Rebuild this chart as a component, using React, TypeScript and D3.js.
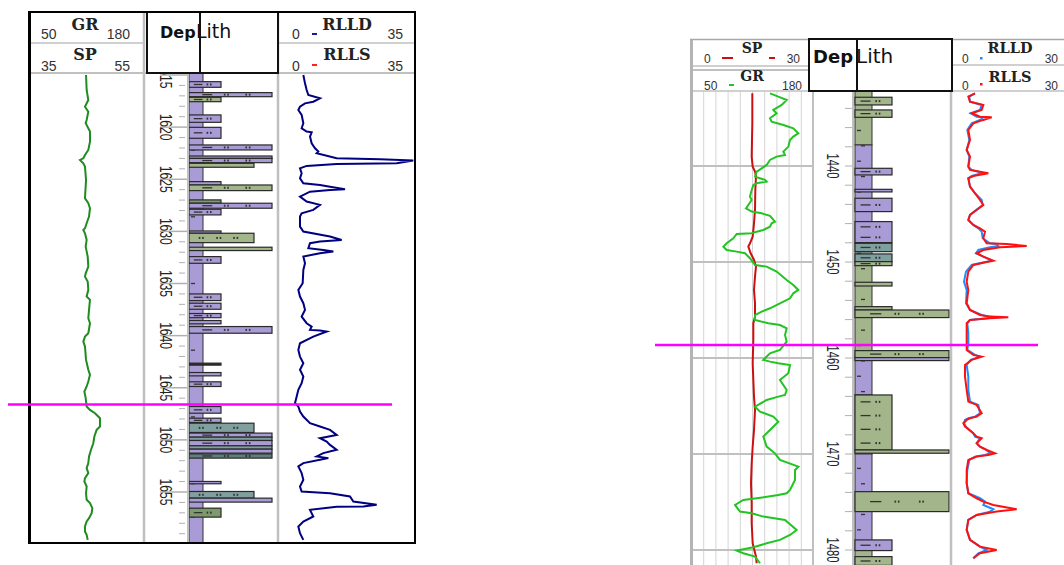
import React from "react";
import * as d3 from "d3";

// ---------- left log (1615 - 1660 m) ----------
const leftGrDepth = [1615.0, 1616.44, 1617.4, 1618.04, 1618.52, 1619.31, 1619.63, 1620.43, 1621.39, 1622.19, 1622.67, 1622.99, 1623.15, 1623.47, 1623.79, 1625.07, 1626.82, 1627.3, 1627.78, 1628.58, 1629.22, 1629.7, 1629.86, 1630.18, 1630.82, 1631.46, 1632.42, 1633.38, 1634.02, 1634.34, 1634.81, 1635.61, 1636.25, 1636.57, 1637.53, 1638.33, 1638.81, 1639.77, 1640.09, 1640.57, 1641.05, 1642.33, 1643.28, 1643.76, 1644.4, 1644.88, 1645.36, 1646.0, 1646.8, 1647.12, 1647.44, 1647.92, 1648.72, 1649.04, 1649.68, 1650.32, 1650.95, 1651.59, 1652.23, 1652.71, 1653.19, 1653.67, 1653.99, 1654.47, 1655.11, 1655.75, 1656.07, 1656.55, 1657.03, 1657.51, 1657.83, 1658.31, 1658.79, 1659.11, 1659.59];
const leftGr = [113.9, 114.6, 116.5, 112.7, 116.5, 114.6, 113.5, 118.4, 118.4, 116.5, 112.7, 110.8, 107.0, 110.8, 112.7, 113.9, 112.7, 116.5, 118.4, 117.3, 114.6, 112.7, 110.8, 112.7, 114.6, 113.5, 115.8, 116.5, 113.5, 112.7, 115.8, 116.5, 114.6, 118.4, 117.3, 116.5, 118.4, 116.5, 112.7, 110.8, 112.7, 113.9, 116.5, 118.4, 116.5, 114.6, 112.0, 113.5, 114.6, 118.4, 124.1, 129.8, 129.8, 126.0, 123.4, 122.2, 119.6, 117.3, 116.5, 114.6, 116.5, 112.7, 112.0, 114.6, 113.9, 114.6, 118.4, 121.1, 120.3, 117.3, 114.6, 112.7, 112.7, 114.6, 115.8];

const leftResDepth = [1615.0, 1615.8, 1616.44, 1616.92, 1617.24, 1617.56, 1617.72, 1618.04, 1618.36, 1618.83, 1619.63, 1620.11, 1620.43, 1620.5, 1620.91, 1621.55, 1622.03, 1622.35, 1622.51, 1622.99, 1623.09, 1623.21, 1623.47, 1623.53, 1623.72, 1623.95, 1624.43, 1624.91, 1625.39, 1625.55, 1625.71, 1625.96, 1626.03, 1626.19, 1626.66, 1627.14, 1627.46, 1627.94, 1628.26, 1628.58, 1629.54, 1630.02, 1630.5, 1630.82, 1630.98, 1631.14, 1631.62, 1631.78, 1631.94, 1632.1, 1632.42, 1633.06, 1633.7, 1634.97, 1635.61, 1636.25, 1636.89, 1637.53, 1638.17, 1638.81, 1639.13, 1639.45, 1639.5, 1639.61, 1640.09, 1640.73, 1641.37, 1642.01, 1642.65, 1643.28, 1643.92, 1644.56, 1645.2, 1645.84, 1646.48, 1646.8, 1647.28, 1647.76, 1648.4, 1648.72, 1649.04, 1649.52, 1649.84, 1650.16, 1650.48, 1650.95, 1651.27, 1651.59, 1651.75, 1651.91, 1652.23, 1652.55, 1653.19, 1653.83, 1654.47, 1654.95, 1655.11, 1655.43, 1655.91, 1656.23, 1656.39, 1656.42, 1656.71, 1657.35, 1657.83, 1658.31, 1658.95, 1659.59];
const leftRlld = [5.92, 6.34, 6.76, 7.19, 10.14, 8.45, 6.34, 5.07, 4.65, 5.49, 5.92, 5.49, 6.76, 8.03, 7.61, 8.03, 8.88, 9.72, 9.3, 14.37, 25.36, 33.81, 29.59, 14.37, 6.76, 5.07, 5.49, 5.07, 5.92, 10.14, 12.68, 16.49, 12.68, 7.61, 5.07, 6.76, 10.14, 8.45, 5.49, 5.07, 5.07, 5.92, 12.68, 15.64, 10.14, 7.61, 7.19, 10.99, 13.53, 10.14, 5.92, 6.34, 5.92, 5.75, 4.65, 5.07, 5.92, 6.34, 5.49, 6.76, 8.03, 7.61, 10.14, 11.84, 8.45, 5.07, 4.65, 5.07, 5.92, 5.07, 5.92, 5.49, 4.65, 4.23, 3.8, 4.65, 5.07, 5.92, 7.61, 10.14, 12.68, 14.37, 10.14, 11.84, 12.68, 14.37, 10.99, 9.3, 12.26, 10.14, 5.92, 4.65, 5.49, 5.92, 5.07, 5.49, 12.68, 17.75, 18.6, 24.52, 21.14, 14.37, 7.61, 8.45, 5.92, 4.65, 5.07, 5.92];

const leftMarkerDepth = 1646.6;
const leftDepthLabels = [1615, 1620, 1625, 1630, 1635, 1640, 1645, 1650, 1655];

// lithology: [top, bottom, size, rock]
const leftLithBase: [number, number, string][] = [[1614, 1661, "purple"]];
const leftLithBars: [number, number, number, string][] = [
  [1615.64, 1616.18, 2, "purple"], [1616.69, 1617.08, 4, "purple"], [1617.14, 1617.56, 2, "green"],
  [1618.83, 1619.54, 2, "purple"], [1620.02, 1621.07, 2, "purple"], [1621.71, 1622.19, 4, "purple"],
  [1622.77, 1623.0, 4, "purple"], [1623.0, 1623.41, 4, "purple"], [1623.47, 1623.85, 3, "green"],
  [1625.23, 1625.55, 2, "purple"], [1625.55, 1626.09, 4, "green"], [1626.98, 1627.3, 2, "olive"],
  [1627.3, 1627.78, 4, "purple"], [1627.88, 1628.42, 2, "purple"], [1629.96, 1630.18, 2, "purple"],
  [1630.18, 1631.08, 3, "green"], [1631.52, 1631.84, 4, "green"], [1632.42, 1633.06, 2, "purple"],
  [1636.0, 1636.64, 2, "purple"], [1636.89, 1637.47, 2, "purple"], [1637.88, 1638.28, 2, "purple"],
  [1638.55, 1638.87, 2, "purple"], [1639.13, 1639.77, 4, "purple"], [1642.64, 1642.83, 2, "dark"],
  [1643.54, 1643.86, 2, "purple"], [1644.43, 1644.88, 2, "purple"], [1646.8, 1647.44, 2, "purple"],
  [1647.92, 1648.33, 2, "purple"], [1648.4, 1649.29, 3, "teal"], [1649.35, 1649.74, 4, "purple"],
  [1649.74, 1650.06, 4, "teal"], [1650.06, 1650.57, 4, "purple"], [1650.57, 1650.89, 4, "teal"],
  [1650.89, 1651.27, 4, "purple"], [1651.34, 1651.75, 4, "darkTeal"], [1653.99, 1654.21, 2, "purple"],
  [1654.95, 1655.59, 3, "teal"], [1655.59, 1655.97, 4, "purple"], [1656.55, 1657.41, 2, "olive"],
];

// ---------- right log (1432 - 1482 m) ----------
const rightSpDepth = [1432.43, 1435.55, 1439.02, 1440.07, 1440.59, 1441.11, 1442.5, 1444.58, 1445.97, 1447.36, 1448.05, 1448.4, 1449.09, 1449.79, 1450.48, 1451.52, 1452.91, 1454.3, 1455.69, 1456.38, 1458.12, 1460.55, 1464.02, 1465.41, 1467.5, 1469.23, 1470.97, 1473.05, 1475.13, 1477.22, 1479.3, 1480.69, 1481.38];
const rightSp = [14.83, 14.83, 14.67, 14.92, 15.5, 15.75, 15.58, 15.5, 15.25, 14.92, 14.25, 13.83, 14.42, 15.25, 15.75, 15.5, 15.25, 15.5, 15.5, 15.08, 15.08, 14.92, 15.25, 15.5, 15.25, 14.92, 14.67, 14.5, 14.67, 14.67, 14.92, 15.75, 15.92];

const rightGrDepth = [1432.43, 1432.77, 1433.12, 1433.64, 1434.16, 1434.51, 1435.03, 1435.38, 1435.73, 1436.07, 1436.59, 1436.94, 1437.29, 1437.98, 1438.5, 1438.85, 1439.02, 1439.37, 1439.89, 1440.24, 1440.59, 1441.11, 1441.45, 1441.63, 1441.8, 1441.98, 1442.5, 1443.19, 1443.54, 1444.06, 1444.41, 1444.75, 1444.93, 1445.2, 1445.79, 1445.97, 1446.32, 1446.66, 1446.84, 1447.01, 1447.08, 1447.53, 1448.05, 1448.4, 1448.75, 1448.92, 1449.09, 1449.61, 1450.31, 1450.48, 1451.0, 1451.87, 1452.39, 1452.91, 1453.26, 1453.78, 1454.3, 1454.82, 1455.17, 1455.52, 1456.04, 1456.38, 1456.56, 1456.9, 1457.6, 1458.3, 1459.16, 1459.51, 1460.2, 1460.38, 1460.55, 1460.73, 1461.59, 1462.29, 1463.33, 1463.85, 1464.02, 1464.37, 1465.07, 1465.59, 1466.11, 1466.63, 1467.5, 1468.19, 1469.23, 1469.93, 1470.62, 1471.32, 1471.66, 1472.7, 1473.75, 1474.09, 1474.27, 1474.61, 1474.79, 1475.31, 1476.0, 1476.18, 1476.52, 1476.87, 1477.91, 1478.43, 1478.95, 1479.3, 1479.72, 1480.06, 1480.34, 1480.69, 1481.38];
const rightGr = [133.4, 142.4, 151.5, 146.1, 137.0, 140.6, 133.4, 135.2, 147.9, 158.7, 164.1, 158.7, 155.1, 153.3, 147.9, 149.7, 140.6, 133.4, 129.8, 124.4, 119.0, 117.2, 128.0, 129.8, 119.0, 115.4, 113.6, 111.7, 113.6, 109.9, 107.4, 113.6, 124.4, 133.4, 138.8, 135.2, 133.4, 126.2, 119.0, 113.6, 97.3, 93.7, 86.5, 82.9, 86.5, 97.3, 106.3, 111.7, 117.2, 129.8, 140.6, 151.5, 158.7, 164.1, 158.7, 155.1, 144.2, 133.4, 124.4, 117.2, 117.2, 131.6, 144.2, 151.5, 149.7, 151.5, 144.2, 133.4, 126.2, 133.4, 142.4, 155.1, 153.3, 144.2, 151.5, 149.7, 142.4, 129.8, 117.2, 122.6, 137.0, 142.4, 133.4, 126.2, 129.8, 138.8, 144.2, 164.1, 160.5, 160.5, 155.1, 151.5, 142.4, 119.0, 104.5, 95.5, 100.9, 113.6, 126.2, 149.7, 162.3, 155.1, 144.2, 129.8, 115.4, 97.3, 104.5, 117.2, 122.6];

const rightResDepth = [1432.43, 1432.77, 1433.3, 1433.64, 1434.16, 1434.51, 1434.86, 1434.93, 1435.2, 1435.55, 1436.25, 1437.29, 1438.33, 1439.02, 1440.07, 1440.41, 1440.59, 1440.76, 1441.04, 1441.28, 1442.15, 1442.84, 1443.54, 1444.06, 1444.58, 1445.1, 1445.62, 1446.14, 1446.49, 1446.84, 1447.53, 1448.05, 1448.12, 1448.33, 1448.47, 1448.75, 1449.09, 1449.44, 1449.86, 1450.07, 1450.31, 1451.0, 1452.04, 1452.91, 1454.3, 1455.0, 1455.52, 1455.69, 1455.76, 1455.86, 1456.04, 1456.38, 1457.43, 1458.47, 1459.16, 1459.68, 1459.86, 1460.2, 1460.72, 1461.94, 1463.33, 1464.54, 1464.89, 1465.76, 1466.11, 1466.28, 1466.45, 1466.8, 1467.15, 1467.84, 1468.19, 1468.36, 1468.88, 1469.23, 1469.58, 1469.92, 1470.1, 1470.27, 1470.62, 1471.66, 1473.05, 1474.09, 1474.61, 1474.96, 1475.31, 1475.76, 1476.0, 1476.35, 1476.87, 1477.91, 1478.95, 1479.65, 1480.0, 1480.34, 1480.86];
const rightRlls = [5.75, 4.08, 4.5, 7.83, 7.42, 4.92, 7.0, 9.92, 7.83, 5.33, 4.08, 4.5, 3.67, 4.5, 4.08, 4.5, 7.0, 9.08, 5.33, 4.08, 4.5, 5.75, 7.0, 7.83, 6.17, 4.5, 4.08, 5.33, 7.0, 8.25, 7.83, 8.67, 13.67, 18.67, 12.0, 7.83, 6.17, 7.83, 10.33, 7.83, 5.33, 4.08, 3.67, 4.08, 3.67, 4.5, 7.0, 9.5, 14.08, 9.5, 4.5, 3.67, 3.67, 3.67, 3.67, 5.33, 7.42, 4.92, 3.25, 3.25, 3.67, 4.08, 6.17, 7.42, 6.17, 4.5, 3.67, 2.83, 3.25, 5.33, 6.17, 7.42, 6.17, 7.0, 8.67, 10.75, 9.08, 6.17, 4.08, 3.67, 3.67, 4.08, 6.17, 7.83, 10.33, 16.17, 11.17, 6.17, 4.08, 3.67, 4.5, 7.0, 11.17, 7.0, 5.33];
const rightRlld = [5.75, 4.33, 4.5, 7.42, 7.0, 4.67, 6.17, 7.83, 7.0, 4.92, 3.83, 4.33, 3.67, 4.33, 4.08, 4.92, 6.58, 7.42, 4.92, 4.08, 4.5, 5.75, 7.42, 7.67, 6.0, 4.5, 4.08, 5.33, 6.58, 7.42, 7.67, 9.5, 11.17, 11.58, 9.5, 6.58, 6.0, 7.83, 9.92, 7.42, 4.92, 3.5, 3.0, 3.67, 3.5, 4.5, 7.42, 9.5, 10.33, 8.67, 4.5, 3.83, 4.08, 4.08, 3.83, 5.75, 7.0, 4.67, 3.67, 4.08, 4.08, 4.5, 6.58, 7.0, 5.75, 4.08, 3.25, 3.0, 3.5, 5.33, 5.75, 7.0, 6.17, 7.0, 8.67, 9.5, 8.25, 5.75, 4.33, 3.83, 3.67, 4.08, 7.0, 8.25, 7.83, 10.33, 9.5, 6.17, 4.08, 3.67, 4.5, 7.0, 8.67, 6.58, 5.33];

const rightMarkerDepth = 1458.65;
const rightDepthLabels = [1430, 1440, 1450, 1460, 1470, 1480];

const rightLithBase: [number, number, string][] = [
  [1431, 1437.81, "green"], [1437.81, 1448.05, "purple"], [1448.05, 1450.0, "teal"],
  [1450.0, 1459.86, "green"], [1459.86, 1463.85, "purple"], [1463.85, 1470.0, "green"],
  [1470.0, 1480.0, "purple"], [1480.0, 1483, "green"],
];
const rightLithBars: [number, number, number, string][] = [
  [1432.84, 1433.64, 2, "green"], [1434.16, 1434.93, 2, "green"], [1440.24, 1440.93, 2, "purple"],
  [1442.43, 1442.7, 2, "purple"], [1443.36, 1444.75, 2, "purple"], [1445.79, 1447.98, 2, "purple"],
  [1448.05, 1448.92, 2, "teal"], [1449.16, 1449.96, 2, "teal"], [1449.96, 1450.38, 2, "green"],
  [1452.11, 1452.5, 2, "green"], [1454.65, 1455.0, 2, "green"], [1455.0, 1455.79, 4, "green"],
  [1459.23, 1459.96, 4, "green"], [1459.96, 1460.27, 4, "purple"], [1463.85, 1469.58, 2, "green"],
  [1469.58, 1469.92, 4, "green"], [1473.92, 1476.0, 4, "green"], [1478.95, 1480.06, 2, "purple"],
  [1480.69, 1481.6, 2, "green"],
];

const rockFill: Record<string, string> = {
  purple: "#a99bd6",
  green: "#a3b58a",
  teal: "#809f9f",
  darkTeal: "#5f7f7a",
  olive: "#7d9a6c",
  dark: "#2a2a2a",
};

const NUM = "'Liberation Sans', Arial, sans-serif";
const SERIF = "'DejaVu Serif', serif";
const BOX = "'DejaVu Sans', sans-serif";
const GRAY = "#c0c0c0";

function path(depths: number[], vals: number[], x: (v: number) => number, y: (d: number) => number) {
  return d3.line<number>().x((v) => x(v)).y((_, i) => y(depths[i]))(vals) ?? "";
}

// dash / dot fill inside a lithology bar
function barMarks(x0: number, w: number, top: number, bot: number, size: number, key: string) {
  const h = bot - top;
  const out: React.ReactElement[] = [];
  if (h < 4) return out;
  const rows = Math.max(1, Math.round(h / 14));
  const dash = size === 2 ? [0.15, 0.42] : size === 4 ? [0.16, 0.28] : null;
  const dots = size === 2 ? [0.55] : size === 4 ? [0.42, 0.68] : [0.15, 0.42, 0.68];
  for (let r = 0; r < rows; r++) {
    const yy = top + (h * (r + 0.5)) / rows;
    if (dash) out.push(<line key={`${key}d${r}`} x1={x0 + dash[0] * w} x2={x0 + dash[1] * w} y1={yy} y2={yy} stroke="#333" strokeWidth={1.3} />);
    dots.forEach((f, j) => {
      out.push(<rect key={`${key}p${r}${j}a`} x={x0 + f * w} y={yy - 1} width={1.6} height={2} fill="#333" />);
      out.push(<rect key={`${key}p${r}${j}b`} x={x0 + f * w + 3.4} y={yy - 1} width={1.6} height={2} fill="#333" />);
    });
  }
  return out;
}

function Lith({ base, bars, x0, w, y, dashes, alt }: any) {
  return (
    <g>
      {base.map(([t, b, k]: [number, number, string], i: number) => (
        <rect key={"base" + i} x={x0} y={y(t)} width={w(1)} height={y(b) - y(t)} fill={rockFill[k]} stroke="#333" strokeWidth={1} />
      ))}
      {dashes.map((d: number, i: number) => {
        const off = alt && i % 2 ? 6 : 2;
        return <line key={"bd" + i} x1={x0 + off} x2={x0 + off + 4} y1={y(d)} y2={y(d)} stroke="#333" strokeWidth={1.3} />;
      })}
      {bars.map(([t, b, s, k]: [number, number, number, string], i: number) => (
        <g key={"bar" + i}>
          <rect x={x0} y={y(t)} width={w(s)} height={y(b) - y(t)} fill={rockFill[k]} stroke="#2a2a2a" strokeWidth={1.2} />
          {barMarks(x0, w(s), y(t), y(b), s, "m" + i)}
        </g>
      ))}
    </g>
  );
}

export default function App() {
  // left panel scales
  const yL = d3.scaleLinear().domain([1615, 1655]).range([75, 492]);
  const xLGr = d3.scaleLinear().domain([50, 180]).range([30, 144]);
  const xLRes = d3.scaleLinear().domain([0, 35]).range([280, 418]);
  const wL = d3.scaleLinear().domain([0, 1, 2, 3, 4]).range([0, 14, 32, 65, 83]);

  // right panel scales
  const yR = d3.scaleLinear().domain([1440, 1480]).range([166, 550]);
  const xRSp = d3.scaleLinear().domain([0, 30]).range([693, 813]);
  const xRGr = d3.scaleLinear().domain([50, 180]).range([693, 813]);
  const xRRes = d3.scaleLinear().domain([0, 30]).range([952, 1072]);
  const wR = d3.scaleLinear().domain([0, 1, 2, 4]).range([0, 17, 37, 94]);
  const gridX = d3.scaleLinear().domain([0, 10]).range([691.5, 813.5]);

  const leftMinor = d3.range(1615, 1661, 1);
  const rightMinor = d3.range(1432, 1484, 2);

  return (
    <svg width={1064} height={565} style={{ position: "absolute", left: 0, top: 0, background: "#fff" }}>
      <defs>
        <clipPath id="clipL"><rect x={31} y={74} width={384} height={469} /></clipPath>
        <clipPath id="clipR"><rect x={693} y={92} width={371} height={473} /></clipPath>
      </defs>

      {/* ================= LEFT PANEL ================= */}
      <g clipPath="url(#clipL)">
        <Lith base={leftLithBase} bars={leftLithBars} x0={189} w={wL} y={yL} dashes={d3.range(1615.8, 1660, 3.2)} alt={false} />
        {leftMinor.map((d) => (
          <line key={"lt" + d} x1={d % 5 === 0 ? 160 : 179} x2={d % 5 === 0 ? 189 : 185} y1={yL(d)} y2={yL(d)} stroke="#b0b0b0" strokeWidth={d % 5 === 0 ? 1.5 : 1} />
        ))}
        {leftDepthLabels.map((d) => (
          <text key={"ll" + d} transform={`translate(165,${yL(d)}) rotate(90)`} textAnchor="middle" dominantBaseline="central" fontFamily={NUM} fontSize={17} textLength={27} lengthAdjust="spacingAndGlyphs" fill="#222">
            {d}
          </text>
        ))}
        <path d={path(leftGrDepth, leftGr, xLGr, yL)} fill="none" stroke="#1e8c1e" strokeWidth={2} />
        <path d={path(leftResDepth, leftRlld, xLRes, yL)} fill="none" stroke="#000080" strokeWidth={2} />
      </g>
      {/* track lines */}
      <line x1={144} x2={144} y1={12} y2={543} stroke={GRAY} strokeWidth={2.5} />
      <line x1={188} x2={188} y1={73} y2={543} stroke={GRAY} strokeWidth={2} />
      <line x1={278} x2={278} y1={12} y2={543} stroke={GRAY} strokeWidth={2.5} />
      <line x1={31} x2={415} y1={73} y2={73} stroke={GRAY} strokeWidth={2} />
      <line x1={31} x2={144} y1={43} y2={43} stroke={GRAY} strokeWidth={1.5} />
      <line x1={278} x2={415} y1={43} y2={43} stroke={GRAY} strokeWidth={1.5} />
      {/* header */}
      <text x={85} y={30} textAnchor="middle" fontFamily={SERIF} fontWeight="bold" fontSize={16} fill="#222">GR</text>
      <text x={41} y={39} fontFamily={NUM} fontSize={14} fill="#333">50</text>
      <text x={130} y={39} textAnchor="end" fontFamily={NUM} fontSize={14} fill="#333">180</text>
      <text x={85} y={60} textAnchor="middle" fontFamily={SERIF} fontWeight="bold" fontSize={16} fill="#222">SP</text>
      <text x={41} y={71} fontFamily={NUM} fontSize={14} fill="#333">35</text>
      <text x={130} y={71} textAnchor="end" fontFamily={NUM} fontSize={14} fill="#333">55</text>
      <text x={347} y={30} textAnchor="middle" fontFamily={SERIF} fontWeight="bold" fontSize={16} fill="#222">RLLD</text>
      <text x={292} y={39} fontFamily={NUM} fontSize={14} fill="#333">0</text>
      <line x1={312} x2={317} y1={34} y2={34} stroke="#1a1aa0" strokeWidth={2} />
      <text x={403} y={39} textAnchor="end" fontFamily={NUM} fontSize={14} fill="#333">35</text>
      <text x={347} y={60} textAnchor="middle" fontFamily={SERIF} fontWeight="bold" fontSize={16} fill="#222">RLLS</text>
      <text x={292} y={71} fontFamily={NUM} fontSize={14} fill="#333">0</text>
      <line x1={312} x2={317} y1={65} y2={65} stroke="#ff2020" strokeWidth={2} />
      <text x={403} y={71} textAnchor="end" fontFamily={NUM} fontSize={14} fill="#333">35</text>
      <rect x={147} y={12} width={53} height={61} fill="#fff" stroke="#111" strokeWidth={2} />
      <rect x={200} y={12} width={78} height={61} fill="#fff" stroke="#111" strokeWidth={2} />
      <text x={160} y={38} fontFamily={BOX} fontWeight="bold" fontSize={16} fill="#111">Dep</text>
      <text x={196} y={38} fontFamily={BOX} fontSize={19} fill="#111">Lith</text>
      {/* frame */}
      <line x1={29.5} x2={29.5} y1={11} y2={544} stroke="#000" strokeWidth={3} />
      <line x1={28} x2={416} y1={12} y2={12} stroke="#000" strokeWidth={2} />
      <line x1={415} x2={415} y1={11} y2={544} stroke="#000" strokeWidth={2} />
      <line x1={28} x2={416} y1={543} y2={543} stroke="#000" strokeWidth={2} />

      {/* ================= RIGHT PANEL ================= */}
      {d3.range(1, 10).map((i) => (
        <line key={"gv" + i} x1={gridX(i)} x2={gridX(i)} y1={91} y2={565} stroke="#d4d4d4" strokeWidth={1} />
      ))}
      {rightDepthLabels.map((d) => (
        <line key={"gh" + d} x1={693} x2={813} y1={yR(d)} y2={yR(d)} stroke={GRAY} strokeWidth={2} />
      ))}
      <g clipPath="url(#clipR)">
        <Lith base={rightLithBase} bars={rightLithBars} x0={855} w={wR} y={yR} dashes={d3.range(1433.1, 1483, 1.6)} alt={true} />
        {rightMinor.map((d) => (
          <line key={"rt" + d} x1={845} x2={853} y1={yR(d)} y2={yR(d)} stroke="#b0b0b0" strokeWidth={1} />
        ))}
        {rightDepthLabels.map((d) => (
          <text key={"rl" + d} transform={`translate(832,${yR(d)}) rotate(90)`} textAnchor="middle" dominantBaseline="central" fontFamily={NUM} fontSize={16} textLength={25} lengthAdjust="spacingAndGlyphs" fill="#222">
            {d}
          </text>
        ))}
        <path d={path(rightSpDepth, rightSp, xRSp, yR)} fill="none" stroke="#cc1010" strokeWidth={2} />
        <path d={path(rightGrDepth, rightGr, xRGr, yR)} fill="none" stroke="#22c422" strokeWidth={2} />
        <path d={path(rightResDepth, rightRlld, xRRes, yR)} fill="none" stroke="#1e8cff" strokeWidth={2} />
        <path d={path(rightResDepth, rightRlls, xRRes, yR)} fill="none" stroke="#ff1010" strokeWidth={2} />
      </g>
      <line x1={691.5} x2={691.5} y1={39} y2={565} stroke="#b4b4b4" strokeWidth={3} />
      <line x1={813} x2={813} y1={39} y2={565} stroke={GRAY} strokeWidth={2} />
      <line x1={853} x2={853} y1={91} y2={565} stroke={GRAY} strokeWidth={2} />
      <line x1={951} x2={951} y1={39} y2={565} stroke={GRAY} strokeWidth={2.5} />
      <line x1={690} x2={1064} y1={39.5} y2={39.5} stroke="#a8a8a8" strokeWidth={1.5} />
      <line x1={693} x2={809} y1={66} y2={66} stroke={GRAY} strokeWidth={1.5} />
      <line x1={693} x2={809} y1={91} y2={91} stroke={GRAY} strokeWidth={1.5} />
      <line x1={952} x2={1064} y1={65} y2={65} stroke={GRAY} strokeWidth={1.5} />
      <line x1={952} x2={1064} y1={91} y2={91} stroke={GRAY} strokeWidth={1.5} />
      <text x={752} y={53} textAnchor="middle" fontFamily={SERIF} fontWeight="bold" fontSize={14} fill="#222">SP</text>
      <text x={704} y={63} fontFamily={NUM} fontSize={12} fill="#333">0</text>
      <line x1={722} x2={733} y1={58} y2={58} stroke="#cc1010" strokeWidth={2} />
      <line x1={769} x2={775} y1={58} y2={58} stroke="#cc1010" strokeWidth={2} />
      <text x={800} y={63} textAnchor="end" fontFamily={NUM} fontSize={12} fill="#333">30</text>
      <text x={752} y={81} textAnchor="middle" fontFamily={SERIF} fontWeight="bold" fontSize={14} fill="#222">GR</text>
      <text x={704} y={90} fontFamily={NUM} fontSize={12} fill="#333">50</text>
      <line x1={729} x2={734} y1={85} y2={85} stroke="#22c422" strokeWidth={2} />
      <text x={802} y={90} textAnchor="end" fontFamily={NUM} fontSize={12} fill="#333">180</text>
      <text x={1010} y={53} textAnchor="middle" fontFamily={SERIF} fontWeight="bold" fontSize={14.5} fill="#222">RLLD</text>
      <text x={962} y={63} fontFamily={NUM} fontSize={12} fill="#333">0</text>
      <rect x={980} y={57} width={2.5} height={2.5} fill="#1e8cff" />
      <text x={1058} y={63} textAnchor="end" fontFamily={NUM} fontSize={12} fill="#333">30</text>
      <text x={1010} y={82} textAnchor="middle" fontFamily={SERIF} fontWeight="bold" fontSize={14.5} fill="#222">RLLS</text>
      <text x={962} y={90} fontFamily={NUM} fontSize={12} fill="#333">0</text>
      <rect x={980} y={83} width={2.5} height={2.5} fill="#ff1010" />
      <text x={1058} y={90} textAnchor="end" fontFamily={NUM} fontSize={12} fill="#333">30</text>
      <rect x={809} y={39} width={48} height={52} fill="#fff" stroke="#111" strokeWidth={2} />
      <rect x={857} y={39} width={95} height={52} fill="#fff" stroke="#111" strokeWidth={2} />
      <text x={813} y={63} fontFamily={BOX} fontWeight="bold" fontSize={18} fill="#111">Dep</text>
      <text x={856} y={63} fontFamily={BOX} fontSize={20} fill="#111">Lith</text>

      {/* marker lines */}
      <line x1={8} x2={392} y1={yL(leftMarkerDepth)} y2={yL(leftMarkerDepth)} stroke="#ff00ff" strokeWidth={2.5} />
      <line x1={655} x2={1038} y1={yR(rightMarkerDepth)} y2={yR(rightMarkerDepth)} stroke="#ff00ff" strokeWidth={2.5} />
    </svg>
  );
}
